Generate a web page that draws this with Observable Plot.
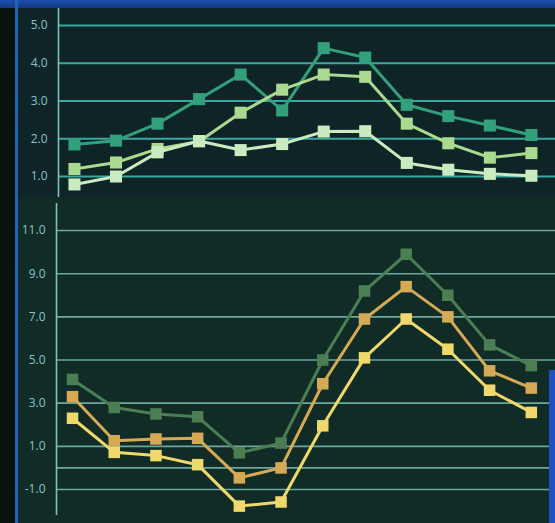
<!DOCTYPE html>
<html>
<head>
<meta charset="utf-8">
<script src="https://cdn.jsdelivr.net/npm/d3@7"></script>
<script src="https://cdn.jsdelivr.net/npm/@observablehq/plot@0.6"></script>
<style>
  html, body { margin: 0; padding: 0; background: #08130f; width: 555px; height: 523px; overflow: hidden; }
  #wrap { position: relative; width: 555px; height: 523px; }
  #topbar { position: absolute; left: 0; top: 0; width: 555px; height: 8px; background: linear-gradient(180deg, #1d4fae, #163a80); }
  #leftline { position: absolute; left: 15px; top: 0; width: 3px; height: 523px; background: #2462b4; }
  #rightedge { position: absolute; left: 549px; top: 370px; width: 6px; height: 153px; background: #1c52c2; }
  #top { position: absolute; left: 18px; top: 8px; background: #0e2426; }
  #bottom { position: absolute; left: 18px; top: 197px; background: #112c26; }
  svg { display: block; }
</style>
</head>
<body>
<div id="wrap">
  <div id="top"></div>
  <div id="bottom"></div>
  <div id="topbar"></div>
  <div id="leftline"></div>
  <div id="rightedge"></div>
</div>
<script>
const months = [1, 2, 3, 4, 5, 6, 7, 8, 9, 10, 11, 12];

const topA = [1.85, 1.95, 2.4, 3.05, 3.7, 2.75, 4.4, 4.15, 2.9, 2.6, 2.35, 2.1];
const topB = [1.2, 1.37, 1.73, 1.93, 2.69, 3.3, 3.7, 3.64, 2.4, 1.88, 1.5, 1.62];
const topC = [0.79, 1.0, 1.64, 1.94, 1.7, 1.86, 2.19, 2.2, 1.36, 1.18, 1.07, 1.02];

const botD = [4.1, 2.8, 2.5, 2.37, 0.7, 1.15, 5.0, 8.2, 9.9, 8.0, 5.7, 4.74];
const botE = [3.3, 1.26, 1.34, 1.37, -0.46, 0.0, 3.9, 6.9, 8.4, 7.0, 4.5, 3.7];
const botF = [2.3, 0.72, 0.57, 0.15, -1.77, -1.58, 1.95, 5.1, 6.9, 5.5, 3.6, 2.57];

const topTicks = [1, 2, 3, 4, 5];
const botTicks = [-1, 1, 3, 5, 7, 9, 11];
const botGrid = [-1, 0, 1, 3, 5, 7, 9, 11];

const topSeries = [
  {values: topA, color: "#33a07c"},
  {values: topB, color: "#a9da90"},
  {values: topC, color: "#c9ebc0"}
];
const botSeries = [
  {values: botD, color: "#4b7f53"},
  {values: botE, color: "#d6aa55"},
  {values: botF, color: "#efd86c"}
];

const xDomain = [0.616, 12.58];
const fmt = d => d.toFixed(1);

function seriesMarks(series, r) {
  const marks = [];
  for (const s of series) {
    const data = months.map((m, i) => ({x: m, y: s.values[i]}));
    marks.push(Plot.line(data, {x: "x", y: "y", stroke: s.color, strokeWidth: 3}));
    marks.push(Plot.dot(data, {x: "x", y: "y", symbol: "square", r: r, fill: s.color, stroke: "none"}));
  }
  return marks;
}

const common = {
  fontFamily: "'Open Sans', 'DejaVu Sans', sans-serif",
  fontSize: "12px",
  color: "#86c4cc",
  background: "transparent",
  overflow: "visible"
};

const topPlot = Plot.plot({
  width: 537,
  height: 189,
  marginTop: 0, marginBottom: 0, marginRight: 0, marginLeft: 40,
  style: common,
  x: {domain: xDomain, axis: null},
  y: {domain: [0.444, 5.45], axis: null},
  marks: [
    Plot.gridY(topTicks, {stroke: "#3aa8a0", strokeOpacity: 1, strokeWidth: 1.8}),
    Plot.axisY(topTicks, {tickSize: 0, tickPadding: 11, tickFormat: fmt, fill: "#86c4cc", label: null}),
    Plot.ruleX([xDomain[0]], {stroke: "#7cc4b4", strokeWidth: 1.6}),
    ...seriesMarks(topSeries, 6.8)
  ]
});
document.getElementById("top").appendChild(topPlot);

const botPlot = Plot.plot({
  width: 537,
  height: 326,
  marginTop: 0, marginBottom: 0, marginRight: 0, marginLeft: 38,
  style: common,
  x: {domain: xDomain, axis: null},
  y: {domain: [-2.576, 12.53], axis: null},
  marks: [
    Plot.gridY(botGrid, {stroke: "#6aa8a0", strokeOpacity: 1, strokeWidth: 1.6}),
    Plot.axisY(botTicks, {tickSize: 0, tickPadding: 11, tickFormat: fmt, fill: "#86c4cc", label: null}),
    Plot.ruleX([xDomain[0]], {y1: -2.2, y2: 12.25, stroke: "#7cc4b4", strokeWidth: 1.6}),
    ...seriesMarks(botSeries, 6.5)
  ]
});
document.getElementById("bottom").appendChild(botPlot);
</script>
</body>
</html>
